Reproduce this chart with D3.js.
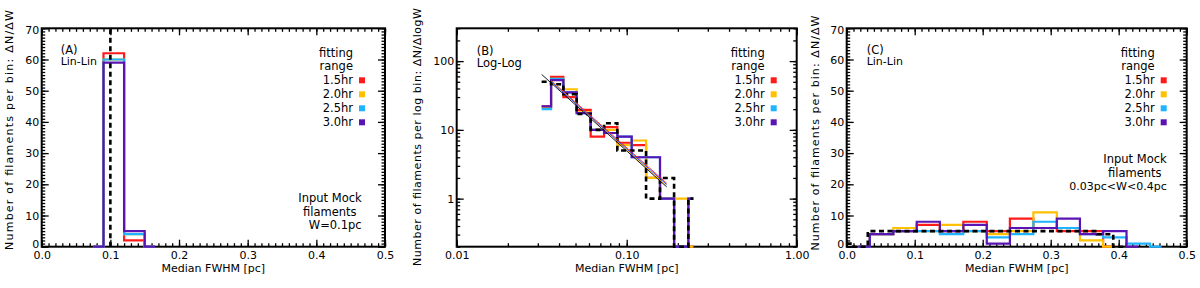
<!DOCTYPE html>
<html>
<head>
<meta charset="utf-8">
<script src="https://cdn.jsdelivr.net/npm/d3@7"></script>
<style>
  body { margin: 0; background: #fff; }
  text { font-family: "DejaVu Sans", "Liberation Sans", sans-serif; font-size: 11px; fill: #000; }
  .small { font-size: 11.5px; }
</style>
</head>
<body>
<svg id="chart" width="1200" height="288"></svg>
<script>
// ---- data ----
const seriesNames  = ["1.5hr", "2.0hr", "2.5hr", "3.0hr"];
const seriesColors = ["#ff1a1a", "#ffc000", "#1eb4ff", "#5a14b4"];

// (A) input W = 0.1pc, lin-lin, bin centres
const centersA = [0.075, 0.105, 0.135, 0.165];
const countsA = [
  [0, 62, 2, 0],
  [0, 60, 4, 0],
  [0, 60, 4, 0],
  [0, 59, 5, 0]
];
const inputWA = 0.1;

// (B) log-log, bin edges [pc]
const edgesB = [0.0316, 0.0359, 0.0424, 0.0508, 0.0614, 0.0736, 0.0881, 0.107, 0.130, 0.157, 0.190, 0.2305, 0.2466];
const countsB = [
  [22, 59, 30, 19.5, 8, 11, 6.5, 6, 2, 1, 0, 0],
  [21, 55, 39, 18, 10, 10, 6, 7, 2, 1, 1, 0],
  [20, 55, 35, 17.5, 10, 9, 8, 4, 4, 1, 0, 1],
  [22, 53, 35, 17.5, 10, 9, 8, 4, 4, 1, 0, 1]
];
const inputB = [50, 46, 33, 17, 10, 12.5, 5, 5, 1, 2, 0, 1];
// power-law fits: end points [W, dN/dlogW]
const fitColorsB = ["#ff1a1a", "#ffc000", "#2040ff", "#000000"];
const fitLinesB = [
  [[0.036, 52.0], [0.172, 1.67]],
  [[0.036, 51.3], [0.170, 1.56]],
  [[0.036, 50.2], [0.172, 1.60]],
  [[0.0316, 64.0], [0.172, 1.48]]
];

// (C) input 0.03pc<W<0.4pc, lin-lin, bin centres
const centersC = [0.017, 0.051, 0.086, 0.120, 0.154, 0.189, 0.223, 0.257, 0.292, 0.326, 0.360, 0.394, 0.429, 0.463];
const countsC = [
  [0, 4, 5, 7, 5, 8, 5, 9, 6, 5, 5, 0],
  [0, 4, 6, 5, 7, 5, 4, 5, 11, 6, 2, 0],
  [0, 4, 5, 5, 4, 5, 3, 4, 8, 6, 4, 3, 1, 0],
  [0, 4, 5, 8, 5, 7, 1, 6, 6, 9, 4, 5, 0]
];
const inputEdgesC = [0, 0.01, 0.031, 0.368, 0.392, 0.41];
const inputC = [1, 0, 5, 4, 0];

// ticks
const linXTicks = [0, 0.1, 0.2, 0.3, 0.4, 0.5];
const linYTicks = [0, 10, 20, 30, 40, 50, 60, 70];
const logXTicks = [0.01, 0.1, 1];
const logXLabels = ["0.01", "0.10", "1.00"];
const logYTicks = [1, 10, 100];

// ---- drawing ----
const svg = d3.select("#chart");
const yTop = 28.3, yBottom = 246.7;

function yval(y, v) {
  return v > 0 ? y(v) : y.range()[0];
}

function axis(g, fn, scale, vals, size, tr, fmt, pad) {
  const ax = fn(scale).tickValues(vals).tickSize(-size).tickPadding(pad || 4)
    .tickFormat(fmt || "");
  const a = g.append("g").attr("transform", tr).call(ax);
  a.select(".domain").remove();
  a.selectAll("line").attr("stroke", "#000").attr("stroke-width", 1.3);
  return a;
}

function frame(g, x, y, xMaj, xMin, yMaj, yMin, xFmt, yFmt) {
  const [l, r] = x.range();
  g.append("rect")
    .attr("x", l).attr("y", yTop).attr("width", r - l).attr("height", yBottom - yTop)
    .attr("fill", "none").attr("stroke", "#000").attr("stroke-width", 2);
  axis(g, d3.axisBottom, x, xMin, 3.5, `translate(0,${yBottom})`);
  axis(g, d3.axisTop, x, xMin, 3.5, `translate(0,${yTop})`);
  axis(g, d3.axisTop, x, xMaj, 7, `translate(0,${yTop})`);
  axis(g, d3.axisLeft, y, yMin, 3.5, `translate(${l},0)`);
  axis(g, d3.axisRight, y, yMin, 3.5, `translate(${r},0)`);
  axis(g, d3.axisRight, y, yMaj, 7, `translate(${r},0)`);
  axis(g, d3.axisBottom, x, xMaj, 7, `translate(0,${yBottom})`, xFmt, 4.5);
  return axis(g, d3.axisLeft, y, yMaj, 7, `translate(${l},0)`, yFmt, 2.5);
}

function label(g, x, y, anchor, s, cls) {
  return g.append("text").attr("x", x).attr("y", y).attr("dy", "0.35em")
    .attr("class", cls || null).attr("text-anchor", anchor).text(s);
}

function legend(g, r) {
  label(g, r - 32, 52.7, "end", "fitting", "small");
  label(g, r - 32, 66.3, "end", "range", "small");
  seriesNames.forEach((s, i) => {
    const yy = 80.3 + i * 14;
    label(g, r - 32, yy, "end", s, "small");
    g.append("rect").attr("x", r - 26).attr("y", yy - 3).attr("width", 6).attr("height", 6)
      .attr("fill", seriesColors[i]);
  });
}

function yTitle(g, xPos, yPos, len, s) {
  g.append("text").attr("transform", `translate(${xPos},${yPos}) rotate(-90)`)
    .attr("text-anchor", "middle").attr("textLength", len).attr("lengthAdjust", "spacing")
    .text(s);
}

function xTitle(g, x) {
  const [l, r] = x.range();
  g.append("text").attr("x", (l + r) / 2).attr("y", 272).attr("text-anchor", "middle")
    .text("Median FWHM [pc]");
}

function nudgeEnds(ax, lo, hi) {
  ax.selectAll("text").attr("transform", d => d === lo ? "translate(0,-3.2)" : d === hi ? "translate(0,1.7)" : null);
}

const linMinorX = d3.range(0, 0.5001, 0.01);
const linMinorY = d3.range(0, 70.01, 1);

// ---------- panel A ----------
{
  const g = svg.append("g");
  const x = d3.scaleLinear().domain([0, 0.5]).range([41.7, 385]);
  const y = d3.scaleLinear().domain([0, 70]).range([yBottom, yTop]);
  const ay = frame(g, x, y, linXTicks, linMinorX, linYTicks, linMinorY, d3.format(".1f"), d3.format("d"));
  nudgeEnds(ay, 0, 70);
  const line = d3.line().x(d => x(d[0])).y(d => y(d[1])).curve(d3.curveStep);
  countsA.forEach((c, i) => {
    g.append("path").attr("d", line(centersA.map((cx, k) => [cx, c[k]])))
      .attr("fill", "none").attr("stroke", seriesColors[i]).attr("stroke-width", 2.2);
  });
  g.append("line").attr("x1", x(inputWA)).attr("x2", x(inputWA))
    .attr("y1", y(0)).attr("y2", y(70))
    .attr("stroke", "#000").attr("stroke-width", 2.6).attr("stroke-dasharray", "5,3.5");
  label(g, 60.7, 50, "start", "(A)", "small");
  label(g, 60.7, 61.5, "start", "Lin-Lin");
  legend(g, 385);
  label(g, 361.7, 198.3, "end", "Input Mock", "small");
  label(g, 356.5, 211.7, "end", "filaments", "small");
  label(g, 361.7, 225.3, "end", "W=0.1pc", "small");
  yTitle(g, 13, 130, 240, "Number of filaments per bin: \u0394N/\u0394W");
  xTitle(g, x);
}

// ---------- panel B ----------
{
  const g = svg.append("g");
  const x = d3.scaleLog().domain([0.01, 1]).range([456.7, 796.7]);
  const y = d3.scaleLog().domain([0.2, 300]).range([yBottom, yTop]);
  const minX = [];
  [0.01, 0.1].forEach(b => d3.range(1, 10).forEach(k => minX.push(b * k)));
  minX.push(1);
  const minY = [];
  [0.1, 1, 10, 100].forEach(b => d3.range(1, 10).forEach(k => { const v = b * k; if (v >= 0.2 && v <= 300.01) minY.push(v); }));
  frame(g, x, y, logXTicks, minX, logYTicks, minY, (d, i) => logXLabels[i], d3.format("d"));
  const line = d3.line().x(d => x(d[0])).y(d => yval(y, d[1])).curve(d3.curveStepAfter);
  const steps = (edges, v) => edges.map((e, k) => [e, v[Math.min(k, v.length - 1)]]);
  countsB.forEach((c, i) => {
    g.append("path").attr("d", line(steps(edgesB, c)))
      .attr("fill", "none").attr("stroke", seriesColors[i]).attr("stroke-width", 2.2);
  });
  g.append("path").attr("d", line(steps(edgesB, inputB)))
    .attr("fill", "none").attr("stroke", "#000").attr("stroke-width", 2.6).attr("stroke-dasharray", "5,3.5");
  const fit = d3.line().x(d => x(d[0])).y(d => y(d[1]));
  fitLinesB.forEach((f, i) => {
    g.append("path").attr("d", fit(f)).attr("fill", "none")
      .attr("stroke", fitColorsB[i]).attr("stroke-width", 0.9);
  });
  label(g, 476.7, 51, "start", "(B)", "small");
  label(g, 476.7, 63, "start", "Log-Log", "small");
  legend(g, 796.7);
  yTitle(g, 420.5, 137, 258, "Number of filaments per log bin: \u0394N/\u0394logW");
  xTitle(g, x);
}

// ---------- panel C ----------
{
  const g = svg.append("g");
  const x = d3.scaleLinear().domain([0, 0.5]).range([846.7, 1186.7]);
  const y = d3.scaleLinear().domain([0, 70]).range([yBottom, yTop]);
  const ay = frame(g, x, y, linXTicks, linMinorX, linYTicks, linMinorY, d3.format(".1f"), d3.format("d"));
  nudgeEnds(ay, 0, 70);
  const line = d3.line().x(d => x(d[0])).y(d => y(d[1])).curve(d3.curveStep);
  countsC.forEach((c, i) => {
    g.append("path").attr("d", line(c.map((v, k) => [centersC[k], v])))
      .attr("fill", "none").attr("stroke", seriesColors[i]).attr("stroke-width", 2.2);
  });
  const after = d3.line().x(d => x(d[0])).y(d => y(d[1])).curve(d3.curveStepAfter);
  g.append("path")
    .attr("d", after(inputEdgesC.map((e, k) => [e, inputC[Math.min(k, inputC.length - 1)]])))
    .attr("fill", "none").attr("stroke", "#000").attr("stroke-width", 2.6).attr("stroke-dasharray", "5,3.5");
  label(g, 866.7, 49.5, "start", "(C)", "small");
  label(g, 866.7, 61.5, "start", "Lin-Lin");
  legend(g, 1186.7);
  label(g, 1166.7, 159.3, "end", "Input Mock", "small");
  label(g, 1161.5, 172.7, "end", "filaments", "small");
  label(g, 1166.7, 186, "end", "0.03pc<W<0.4pc");
  yTitle(g, 818.5, 133, 235, "Number of filaments per bin: \u0394N/\u0394W");
  xTitle(g, x);
}
</script>
</body>
</html>
